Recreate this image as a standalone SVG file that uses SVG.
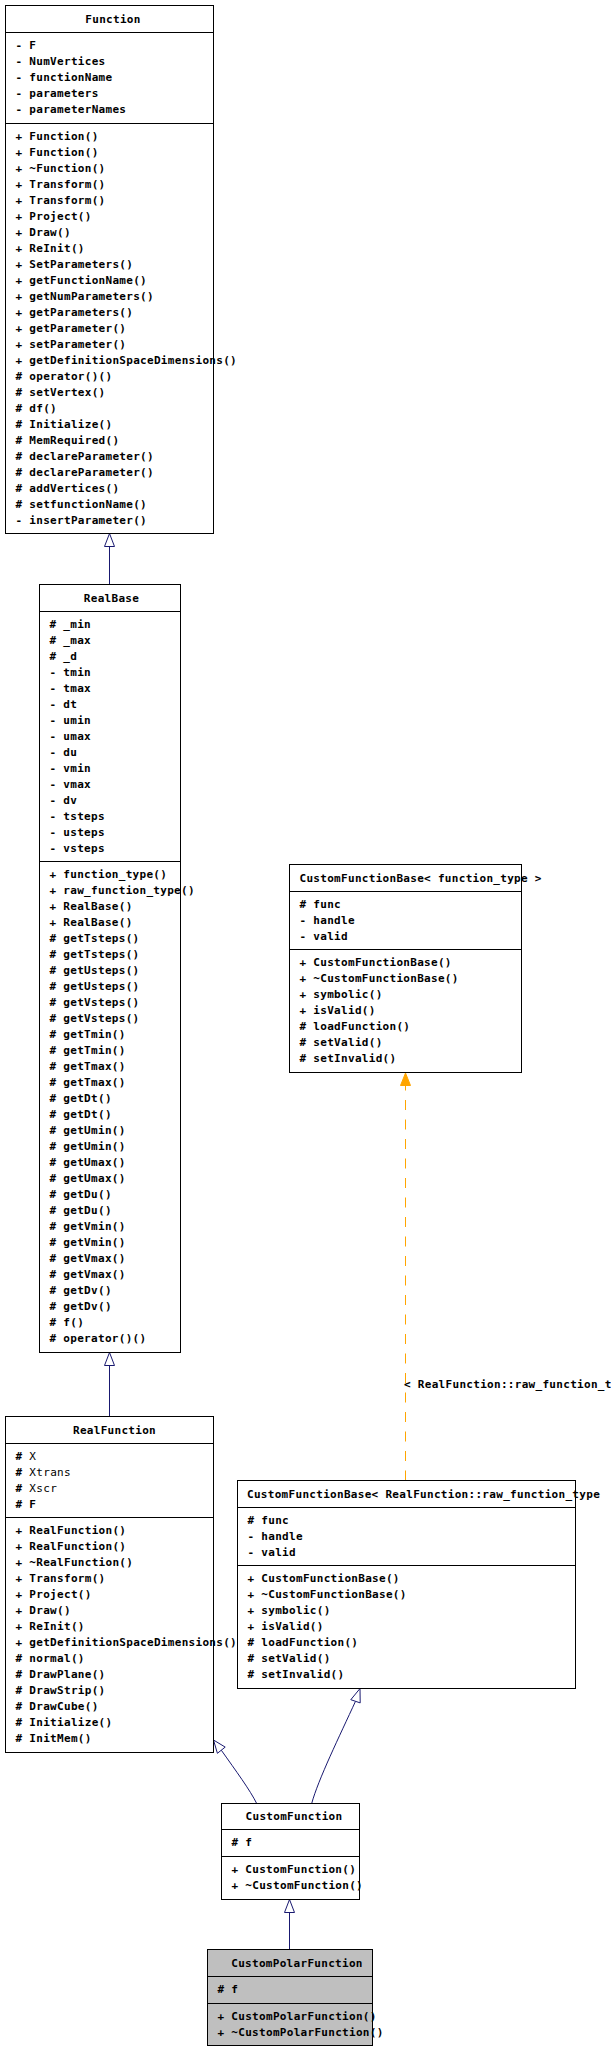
<svg xmlns="http://www.w3.org/2000/svg" width="611" height="2051" viewBox="0 0 611 2051">
<style>
.box{fill:#ffffff;stroke:#000000;stroke-width:1}
.sel{fill:#bfbfbf;stroke:#000000;stroke-width:1}
.sep{stroke:#000000;stroke-width:1}
text{font-family:"DejaVu Sans Mono","Liberation Mono",monospace;font-size:11px;font-weight:bold;letter-spacing:0.3px;fill:#000000}
.t{text-anchor:middle}
.thin{font-weight:normal}
.inh{fill:none;stroke:#191970;stroke-width:1}
.head{fill:#ffffff;stroke:#191970;stroke-width:1}
.tmpl{fill:none;stroke:#ffa500;stroke-width:1;stroke-dasharray:10 9.5}
.thead{fill:#ffa500;stroke:#ffa500;stroke-width:1}
</style>
<rect width="611" height="2051" fill="#ffffff"/>
<g id="connectors">
<path class="inh" d="M109.5,584.5 V546.5"/>
<polygon class="head" points="109.5,533.5 104.5,546.5 114.5,546.5"/>
<path class="inh" d="M109.5,1416.5 V1365.5"/>
<polygon class="head" points="109.5,1352.5 104.5,1365.5 114.5,1365.5"/>
<path class="tmpl" d="M405.5,1480.5 V1085.5"/>
<polygon class="thead" points="405.5,1073 400.5,1085.5 410.5,1085.5"/>
<text x="404" y="1387.5">&lt; RealFunction::raw_function_t</text>
<path class="inh" d="M256.7,1803.5 C250,1790 236,1771 221.3,1750.2"/>
<polygon class="head" points="213.5,1740 225.2,1747.1 217.4,1753.3"/>
<path class="inh" d="M311.7,1803.5 C318,1780 340,1735 355.5,1701.3"/>
<polygon class="head" points="360,1688.5 360.2,1702.9 350.8,1699.7"/>
<path class="inh" d="M289.5,1949.5 V1912.5"/>
<polygon class="head" points="289.5,1899.5 284.5,1912.5 294.5,1912.5"/>
</g>
<g id="node-Function">
<rect class="box" x="5.5" y="5.5" width="208" height="528"/>
<line class="sep" x1="5.5" y1="32.5" x2="213.5" y2="32.5"/>
<line class="sep" x1="5.5" y1="123.5" x2="213.5" y2="123.5"/>
<text class="t" x="113" y="22.5">Function</text>
<text x="15.5" y="48.5">- F</text>
<text x="15.5" y="64.5">- NumVertices</text>
<text x="15.5" y="80.5">- functionName</text>
<text x="15.5" y="96.5">- parameters</text>
<text x="15.5" y="112.5">- parameterNames</text>
<text x="15.5" y="139.5">+ Function()</text>
<text x="15.5" y="155.5">+ Function()</text>
<text x="15.5" y="171.5">+ ~Function()</text>
<text x="15.5" y="187.5">+ Transform()</text>
<text x="15.5" y="203.5">+ Transform()</text>
<text x="15.5" y="219.5">+ Project()</text>
<text x="15.5" y="235.5">+ Draw()</text>
<text x="15.5" y="251.5">+ ReInit()</text>
<text x="15.5" y="267.5">+ SetParameters()</text>
<text x="15.5" y="283.5">+ getFunctionName()</text>
<text x="15.5" y="299.5">+ getNumParameters()</text>
<text x="15.5" y="315.5">+ getParameters()</text>
<text x="15.5" y="331.5">+ getParameter()</text>
<text x="15.5" y="347.5">+ setParameter()</text>
<text x="15.5" y="363.5">+ getDefinitionSpaceDimensions()</text>
<text x="15.5" y="379.5"># operator()()</text>
<text x="15.5" y="395.5"># setVertex()</text>
<text x="15.5" y="411.5"># df()</text>
<text x="15.5" y="427.5"># Initialize()</text>
<text x="15.5" y="443.5"># MemRequired()</text>
<text x="15.5" y="459.5"># declareParameter()</text>
<text x="15.5" y="475.5"># declareParameter()</text>
<text x="15.5" y="491.5"># addVertices()</text>
<text x="15.5" y="507.5"># setfunctionName()</text>
<text x="15.5" y="523.5">- insertParameter()</text>
</g>
<g id="node-RealBase">
<rect class="box" x="39.5" y="584.5" width="141" height="768"/>
<line class="sep" x1="39.5" y1="611.5" x2="180.5" y2="611.5"/>
<line class="sep" x1="39.5" y1="861.5" x2="180.5" y2="861.5"/>
<text class="t" x="111.5" y="601.5">RealBase</text>
<text x="49.5" y="627.5"># _min</text>
<text x="49.5" y="643.5"># _max</text>
<text x="49.5" y="659.5"># _d</text>
<text x="49.5" y="675.5">- tmin</text>
<text x="49.5" y="691.5">- tmax</text>
<text x="49.5" y="707.5">- dt</text>
<text x="49.5" y="723.5">- umin</text>
<text x="49.5" y="739.5">- umax</text>
<text x="49.5" y="755.5">- du</text>
<text x="49.5" y="771.5">- vmin</text>
<text x="49.5" y="787.5">- vmax</text>
<text x="49.5" y="803.5">- dv</text>
<text x="49.5" y="819.5">- tsteps</text>
<text x="49.5" y="835.5">- usteps</text>
<text x="49.5" y="851.5">- vsteps</text>
<text x="49.5" y="877.5">+ function_type()</text>
<text x="49.5" y="893.5">+ raw_function_type()</text>
<text x="49.5" y="909.5">+ RealBase()</text>
<text x="49.5" y="925.5">+ RealBase()</text>
<text x="49.5" y="941.5"># getTsteps()</text>
<text x="49.5" y="957.5"># getTsteps()</text>
<text x="49.5" y="973.5"># getUsteps()</text>
<text x="49.5" y="989.5"># getUsteps()</text>
<text x="49.5" y="1005.5"># getVsteps()</text>
<text x="49.5" y="1021.5"># getVsteps()</text>
<text x="49.5" y="1037.5"># getTmin()</text>
<text x="49.5" y="1053.5"># getTmin()</text>
<text x="49.5" y="1069.5"># getTmax()</text>
<text x="49.5" y="1085.5"># getTmax()</text>
<text x="49.5" y="1101.5"># getDt()</text>
<text x="49.5" y="1117.5"># getDt()</text>
<text x="49.5" y="1133.5"># getUmin()</text>
<text x="49.5" y="1149.5"># getUmin()</text>
<text x="49.5" y="1165.5"># getUmax()</text>
<text x="49.5" y="1181.5"># getUmax()</text>
<text x="49.5" y="1197.5"># getDu()</text>
<text x="49.5" y="1213.5"># getDu()</text>
<text x="49.5" y="1229.5"># getVmin()</text>
<text x="49.5" y="1245.5"># getVmin()</text>
<text x="49.5" y="1261.5"># getVmax()</text>
<text x="49.5" y="1277.5"># getVmax()</text>
<text x="49.5" y="1293.5"># getDv()</text>
<text x="49.5" y="1309.5"># getDv()</text>
<text x="49.5" y="1325.5"># f()</text>
<text x="49.5" y="1341.5"># operator()()</text>
</g>
<g id="node-RealFunction">
<rect class="box" x="5.5" y="1416.5" width="208" height="336"/>
<line class="sep" x1="5.5" y1="1443.5" x2="213.5" y2="1443.5"/>
<line class="sep" x1="5.5" y1="1517.5" x2="213.5" y2="1517.5"/>
<text class="t" x="114.5" y="1433.5">RealFunction</text>
<text x="15.5" y="1459.5"># <tspan class="thin">X</tspan></text>
<text x="15.5" y="1475.5"># <tspan class="thin">Xtrans</tspan></text>
<text x="15.5" y="1491.5"># <tspan class="thin">Xscr</tspan></text>
<text x="15.5" y="1507.5"># F</text>
<text x="15.5" y="1533.5">+ RealFunction()</text>
<text x="15.5" y="1549.5">+ RealFunction()</text>
<text x="15.5" y="1565.5">+ ~RealFunction()</text>
<text x="15.5" y="1581.5">+ Transform()</text>
<text x="15.5" y="1597.5">+ Project()</text>
<text x="15.5" y="1613.5">+ Draw()</text>
<text x="15.5" y="1629.5">+ ReInit()</text>
<text x="15.5" y="1645.5">+ getDefinitionSpaceDimensions()</text>
<text x="15.5" y="1661.5"># normal()</text>
<text x="15.5" y="1677.5"># DrawPlane()</text>
<text x="15.5" y="1693.5"># DrawStrip()</text>
<text x="15.5" y="1709.5"># DrawCube()</text>
<text x="15.5" y="1725.5"># Initialize()</text>
<text x="15.5" y="1741.5"># InitMem()</text>
</g>
<g id="node-CustomFunctionBase-function_type">
<rect class="box" x="289.5" y="864.5" width="232" height="208"/>
<line class="sep" x1="289.5" y1="891.5" x2="521.5" y2="891.5"/>
<line class="sep" x1="289.5" y1="949.5" x2="521.5" y2="949.5"/>
<text x="299.5" y="881.5">CustomFunctionBase&lt; function_type &gt;</text>
<text x="299.5" y="907.5"># func</text>
<text x="299.5" y="923.5">- handle</text>
<text x="299.5" y="939.5">- valid</text>
<text x="299.5" y="965.5">+ CustomFunctionBase()</text>
<text x="299.5" y="981.5">+ ~CustomFunctionBase()</text>
<text x="299.5" y="997.5">+ symbolic()</text>
<text x="299.5" y="1013.5">+ isValid()</text>
<text x="299.5" y="1029.5"># loadFunction()</text>
<text x="299.5" y="1045.5"># setValid()</text>
<text x="299.5" y="1061.5"># setInvalid()</text>
</g>
<g id="node-CustomFunctionBase-raw_function_type">
<rect class="box" x="237.5" y="1480.5" width="338" height="208"/>
<line class="sep" x1="237.5" y1="1507.5" x2="575.5" y2="1507.5"/>
<line class="sep" x1="237.5" y1="1565.5" x2="575.5" y2="1565.5"/>
<text x="247" y="1497.5">CustomFunctionBase&lt; RealFunction::raw_function_type</text>
<text x="247.5" y="1523.5"># func</text>
<text x="247.5" y="1539.5">- handle</text>
<text x="247.5" y="1555.5">- valid</text>
<text x="247.5" y="1581.5">+ CustomFunctionBase()</text>
<text x="247.5" y="1597.5">+ ~CustomFunctionBase()</text>
<text x="247.5" y="1613.5">+ symbolic()</text>
<text x="247.5" y="1629.5">+ isValid()</text>
<text x="247.5" y="1645.5"># loadFunction()</text>
<text x="247.5" y="1661.5"># setValid()</text>
<text x="247.5" y="1677.5"># setInvalid()</text>
</g>
<g id="node-CustomFunction">
<rect class="box" x="221.5" y="1803.5" width="138" height="96"/>
<line class="sep" x1="221.5" y1="1829.5" x2="359.5" y2="1829.5"/>
<line class="sep" x1="221.5" y1="1856.5" x2="359.5" y2="1856.5"/>
<text class="t" x="294" y="1820">CustomFunction</text>
<text x="231.5" y="1845.5"># f</text>
<text x="231.5" y="1872.5">+ CustomFunction()</text>
<text x="231.5" y="1888.5">+ ~CustomFunction()</text>
</g>
<g id="node-CustomPolarFunction">
<rect class="sel" x="207.5" y="1949.5" width="165" height="96"/>
<line class="sep" x1="207.5" y1="1976.5" x2="372.5" y2="1976.5"/>
<line class="sep" x1="207.5" y1="2003.5" x2="372.5" y2="2003.5"/>
<text class="t" x="297" y="1966.5">CustomPolarFunction</text>
<text x="217.5" y="1992.5"># f</text>
<text x="217.5" y="2019.5">+ CustomPolarFunction()</text>
<text x="217.5" y="2035.5">+ ~CustomPolarFunction()</text>
</g>
</svg>
